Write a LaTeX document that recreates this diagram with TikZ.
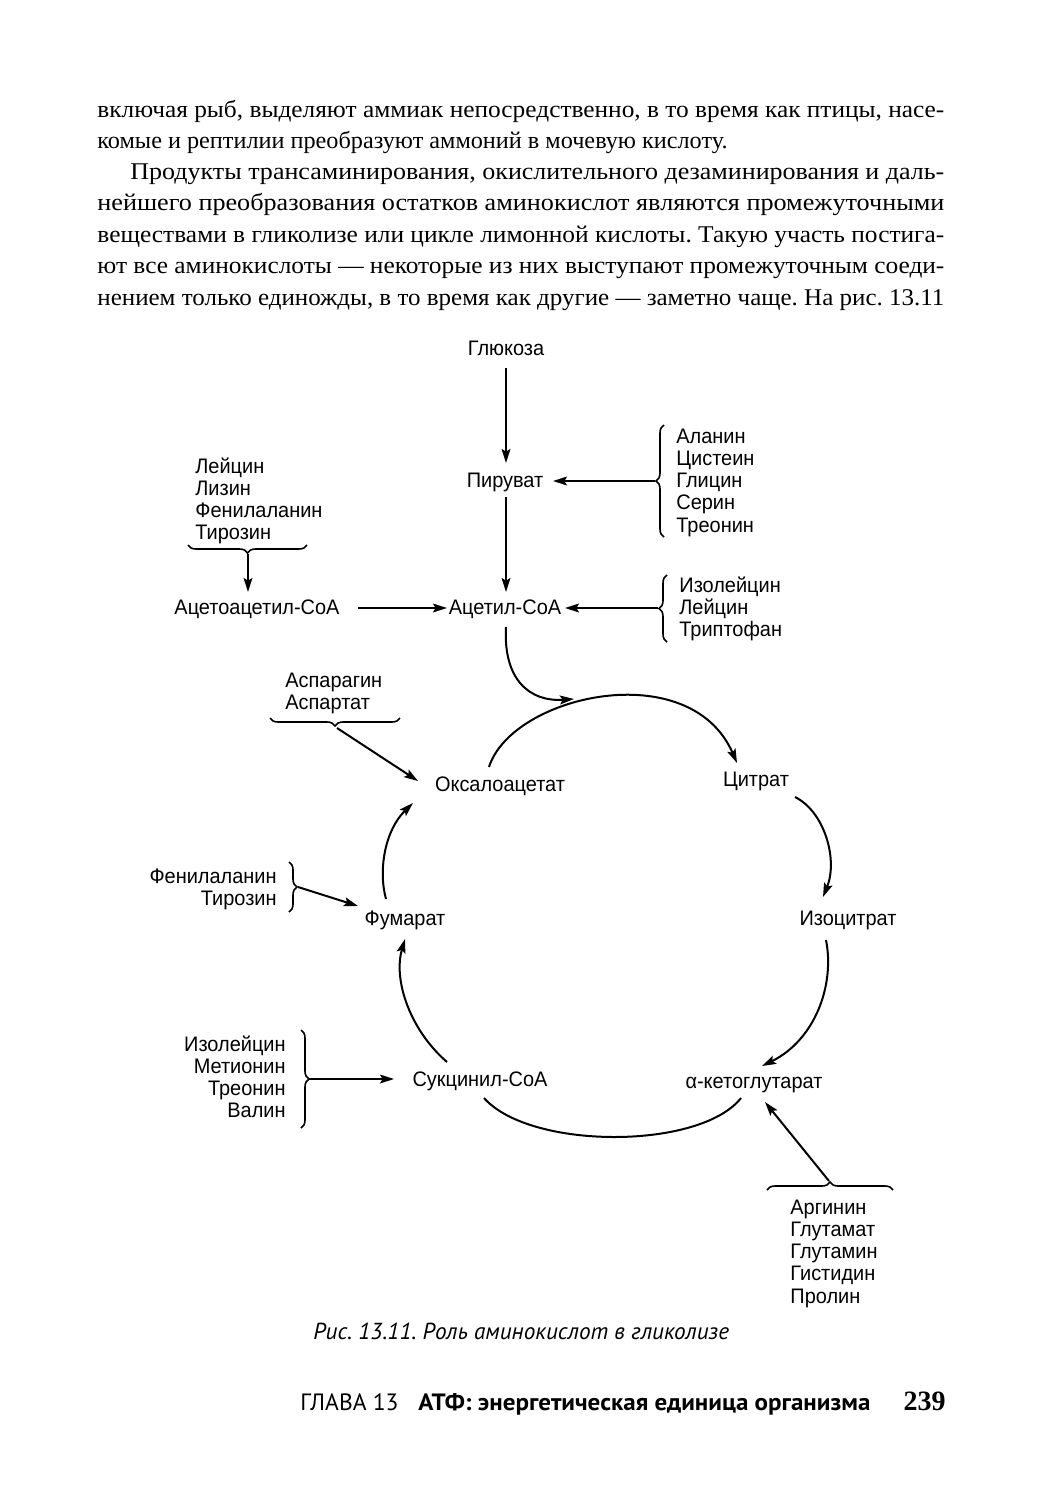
\documentclass[tikz,border=0pt]{standalone}
\usepackage{fontspec}
\setmainfont{Liberation Serif}
\newfontfamily\dfont{Liberation Sans}[FakeStretch=0.95]
\newfontfamily\cfont{PT Sans}
\usetikzlibrary{arrows.meta,decorations.pathreplacing}
\frenchspacing
\newcommand\lstL[1]{\vtop{\baselineskip=11.15pt\lineskiplimit=-20pt\halign{##\hfil\cr#1\crcr}}}
\newcommand\lstR[1]{\vtop{\baselineskip=11.15pt\lineskiplimit=-20pt\halign{\hfil##\cr#1\crcr}}}
\newdimen\jwd
\newcommand\jline[2]{\setbox0=\hbox{#2}\jwd=\wd0\relax
  \pgfmathsetmacro\jsc{min((#1)/\jwd,1.16)}%
  {\addfontfeatures{FakeStretch=\jsc}\makebox[#1][s]{#2}}}
\begin{document}
\begin{tikzpicture}[x=0.5pt,y=-0.5pt,
 body/.style={anchor=base west,inner sep=0pt,font=\fontsize{12}{14}\selectfont},
 lbl/.style={anchor=base,inner sep=0pt,font=\dfont\fontsize{10.5}{11.15}\selectfont},
 lstl/.style={anchor=base west,inner sep=0pt,font=\dfont\fontsize{10.5}{11.15}\selectfont},
 lstr/.style={anchor=base east,inner sep=0pt,font=\dfont\fontsize{10.5}{11.15}\selectfont},
 arr/.style={line width=1pt,-{Stealth[length=7pt,width=4.4pt,inset=1.3pt]}},
 cyc/.style={line width=1pt},
 brc/.style={line width=0.8pt,decorate,decoration={brace,amplitude=4pt}},
 ]
\useasboundingbox (0,0) rectangle (1044,1500);
\fill[white] (0,0) rectangle (1044,1500);

% body text
\node[body] (t1) at (97,117) {\jline{423.5pt}{включая рыб, выделяют аммиак непосредственно, в то время как птицы, насе-}};
\node[body] (t2) at (97,148) {\addfontfeatures{FakeStretch=1.01}комые и рептилии преобразуют аммоний в мочевую кислоту.};
\node[body] (t3) at (130,179) {\jline{407pt}{Продукты трансаминирования, окислительного дезаминирования и даль-}};
\node[body] (t4) at (97,210) {\jline{423.5pt}{нейшего преобразования остатков аминокислот являются промежуточными}};
\node[body] (t5) at (97,242) {\jline{423.5pt}{веществами в гликолизе или цикле лимонной кислоты. Такую участь постига-}};
\node[body] (t6) at (97,273) {\jline{423.5pt}{ют все аминокислоты — некоторые из них выступают промежуточным соеди-}};
\node[body] (t7) at (97,305) {\jline{423.5pt}{нением только единожды, в то время как другие — заметно чаще. На рис. 13.11}};

% main labels
\node[lbl] (glu) at (506,355) {Глюкоза};
\node[lbl] (pyr) at (505,487) {Пируват};
\node[lbl] (acc) at (505,614) {Ацетил-CoA};
\node[lbl] (aac) at (257,614) {Ацетоацетил-CoA};
\node[lbl] (oxa) at (500,791) {Оксалоацетат};
\node[lbl] (cit) at (756,786) {Цитрат};
\node[lbl] (iso) at (848,925) {Изоцитрат};
\node[lbl] (akg) at (754,1088) {α-кетоглутарат};
\node[lbl] (suc) at (480,1086) {Сукцинил-CoA};
\node[lbl] (fum) at (405,925) {Фумарат};

% lists
\node[lstl] (g1) at (195,473) {\lstL{Лейцин\cr Лизин\cr Фенилаланин\cr Тирозин}};
\node[lstl] (g2) at (676,443) {\lstL{Аланин\cr Цистеин\cr Глицин\cr Серин\cr Треонин}};
\node[lstl] (g3) at (679,592) {\lstL{Изолейцин\cr Лейцин\cr Триптофан}};
\node[lstl] (g4) at (285,687) {\lstL{Аспарагин\cr Аспартат}};
\node[lstr] (g5) at (277,883) {\lstR{Фенилаланин\cr Тирозин}};
\node[lstr] (g6) at (286,1051) {\lstR{Изолейцин\cr Метионин\cr Треонин\cr Валин}};
\node[lstl] (g7) at (790,1214) {\lstL{Аргинин\cr Глутамат\cr Глутамин\cr Гистидин\cr Пролин}};

% braces
\draw[brc] (307,545) coordinate (b1a) -- (188,545) coordinate (b1b);
\draw[brc] (664,537) coordinate (b2a) -- (664,425) coordinate (b2b);
\draw[brc] (667,642) coordinate (b3a) -- (667,575) coordinate (b3b);
\draw[brc] (400,718) coordinate (b4a) -- (270,718) coordinate (b4b);
\draw[brc] (289,862) coordinate (b5a) -- (289,912) coordinate (b5b);
\draw[brc] (301,1030) coordinate (b6a) -- (301,1128) coordinate (b6b);
\draw[brc] (767,1190) coordinate (b7a) -- (893,1190) coordinate (b7b);

% tip / end coordinates
\coordinate (glu-s) at (506,368);
\coordinate (pyr-n) at (506,463);
\coordinate (pyr-s) at (506,497);
\coordinate (acc-n) at (506,592);
\coordinate (acc-s) at (506,627);
\coordinate (pyr-e) at (553,481);
\coordinate (acc-e) at (565,608);
\coordinate (acc-w) at (447,608);
\coordinate (aac-e) at (358,608);
\coordinate (aac-n) at (248,592);
\coordinate (b1t) at (248,554);
\coordinate (b2t) at (655,481);
\coordinate (b3t) at (658,608);
\coordinate (b4t) at (337,728);
\coordinate (oxa-w) at (418,781);
\coordinate (b5t) at (298,887);
\coordinate (fum-w) at (358,906);
\coordinate (b6t) at (309,1079);
\coordinate (suc-w) at (394,1079);
\coordinate (b7t) at (829,1181);
\coordinate (akg-s) at (765,1102);

% straight arrows
\draw[arr] (glu-s) -- (pyr-n);
\draw[arr] (pyr-s) -- (acc-n);
\draw[arr] (aac-e) -- (acc-w);
\draw[arr] (b2t) -- (pyr-e);
\draw[arr] (b3t) -- (acc-e);
\draw[arr] (b1t) -- (aac-n);
\draw[arr] (b4t) -- (oxa-w);
\draw[arr] (b5t) -- (fum-w);
\draw[arr] (b6t) -- (suc-w);
\draw[arr] (b7t) -- (akg-s);

% feed into cycle
\draw[arr] (acc-s) .. controls (503,680) and (530,702) .. (574,699);

% cycle arcs
\coordinate (oxa-ne) at (489,767);
\coordinate (cit-nw) at (737,763);
\coordinate (cit-se) at (795,797);
\coordinate (iso-n) at (823,897);
\coordinate (iso-s) at (826,940);
\coordinate (akg-ne) at (762,1066);
\coordinate (akg-sw) at (741,1098);
\coordinate (suc-se) at (484,1098);
\coordinate (suc-nw) at (447,1062);
\coordinate (fum-s) at (405,939);
\coordinate (fum-nw) at (386,899);
\coordinate (oxa-sw) at (413,803);
\draw[arr] (oxa-ne) .. controls (512,695) and (690,655) .. (cit-nw);
\draw[arr] (cit-se) .. controls (825,812) and (838,860) .. (iso-n);
\draw[arr] (iso-s) .. controls (835,985) and (815,1040) .. (akg-ne);
\draw[cyc] (akg-sw) .. controls (700,1150) and (530,1150) .. (suc-se);
\draw[arr] (suc-nw) .. controls (410,1030) and (393,980) .. (fum-s);
\draw[arr] (fum-nw) .. controls (378,870) and (385,830) .. (oxa-sw);

% caption and footer
\node[anchor=base west,inner sep=0pt,font=\cfont\itshape\fontsize{11.6}{13}\selectfont] (cap) at (313,1339) {Рис. 13.11. Роль аминокислот в гликолизе};
\node[anchor=base west,inner sep=0pt,font=\cfont\fontsize{11.8}{13}\selectfont] (f1) at (300,1410) {ГЛАВА 13};
\node[anchor=base west,inner sep=0pt,font=\cfont\bfseries\fontsize{11.8}{13}\selectfont\addfontfeatures{FakeStretch=1.06}] (f2) at (418,1410) {АТФ: энергетическая единица организма};
\node[anchor=base east,inner sep=0pt,font=\bfseries\fontsize{14}{16}\selectfont] (f3) at (946,1410) {239};
\end{tikzpicture}
\end{document}
